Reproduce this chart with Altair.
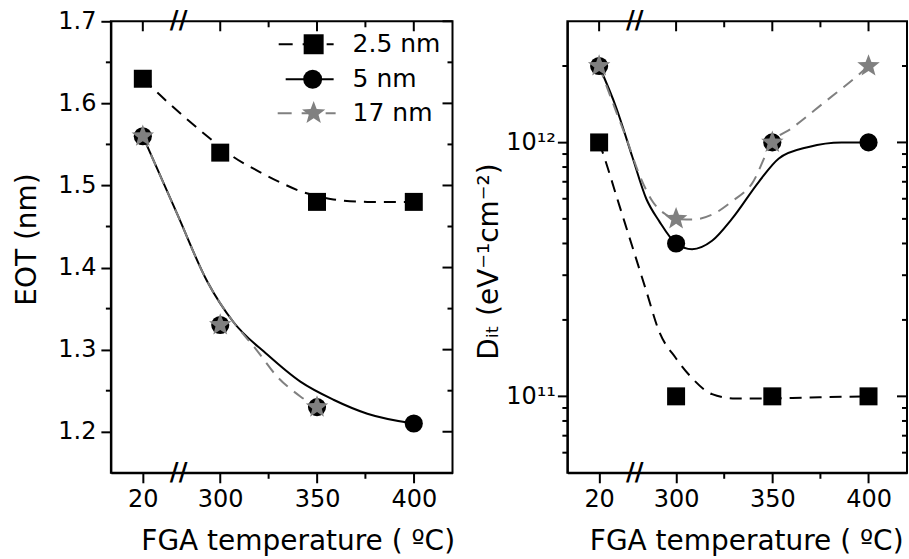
import altair as alt
import pandas as pd

# ---------------- data ----------------
temps = [20, 300, 350, 400]
axis_pos = [260, 300, 350, 400]          # where each temperature sits on the broken axis
tick_labels = ["20", "300", "350", "400"]
break_pos = [278.5]
minor_x = [325, 375]
series = ["2.5 nm", "5 nm", "17 nm"]

eot_25 = [1.63, 1.54, 1.48, 1.48]
eot_5 = [1.56, 1.33, 1.23, 1.21]
eot_17 = [1.56, 1.33, 1.23]

dit_25 = [1e12, 1e11, 1e11, 1e11]
dit_5 = [2e12, 4e11, 1e12, 1e12]
dit_17 = [2e12, 5e11, 1e12, 2e12]

# smoothed guide curves (axis position, value)
eot_c25_x = [260, 272.6, 296.4, 306.7, 320, 332.6, 341.4, 350, 358.5, 376, 400]
eot_c25_y = [1.63, 1.602, 1.554, 1.535, 1.517, 1.502, 1.493, 1.487, 1.483, 1.48, 1.48]
eot_c5_x = [260, 277.8, 293.3, 306.7, 324.3, 341.4, 358.5, 376, 400]
eot_c5_y = [1.56, 1.465, 1.383, 1.334, 1.294, 1.261, 1.239, 1.222, 1.21]
eot_c17_x = [260, 277.8, 293.3, 306.7, 318, 329.5, 341.4, 350]
eot_c17_y = [1.56, 1.465, 1.383, 1.334, 1.302, 1.267, 1.243, 1.23]

dit_c25_x = [260, 261.7, 270.5, 277.2, 284.5, 291.2, 300, 308.3, 318.7, 331, 343, 370, 400]
dit_c25_y = [1e12, 9.2e11, 5.65e11, 3.9e11, 2.6e11, 1.8e11, 1.41e11, 1.18e11, 1.02e11,
             0.98e11, 0.98e11, 0.99e11, 1e11]
dit_c5_x = [260, 268.9, 277.2, 284.5, 291.2, 300, 308.3, 318.7, 329, 343, 353.4, 368.9, 386, 400]
dit_c5_y = [2e12, 1.37e12, 8.8e11, 6.0e11, 4.9e11, 4.0e11, 3.8e11, 4.1e11, 5.0e11, 7.0e11,
            8.65e11, 9.6e11, 1e12, 1e12]
dit_c17_x = [260, 268.9, 274.1, 280.8, 287.7, 294.7, 300, 308.4, 318.8, 329.2, 339.5, 350,
             360.3, 377.6, 395, 400]
dit_c17_y = [2e12, 1.32e12, 1.04e12, 7.5e11, 5.87e11, 5.2e11, 5.0e11, 4.97e11, 5.2e11, 5.87e11,
             6.9e11, 1e12, 1.14e12, 1.45e12, 1.85e12, 2e12]

eot_ticks = [1.2, 1.3, 1.4, 1.5, 1.6, 1.7]
eot_minor = [1.25, 1.35, 1.45, 1.55, 1.65]
dit_ticks = [1e11, 1e12]
dit_tick_labels = ["10\u00b9\u00b9", "10\u00b9\u00b2"]
dit_minor = [6e10, 7e10, 8e10, 9e10, 2e11, 3e11, 4e11, 5e11, 6e11, 7e11, 8e11, 9e11, 2e12]

# ---------------- styles ----------------
FONT = "DejaVu Sans"
GRAY = "#808080"
STAR = ("M0,-1L0.247,-0.34L0.951,-0.309L0.399,0.13L0.588,0.809L0,0.42L-0.588,0.809"
        "L-0.399,0.13L-0.951,-0.309L-0.247,-0.34Z")
styles = {
    "2.5 nm": dict(color="black", dash=[12, 8], shape="square", size=324, lsize=400),
    "5 nm": dict(color="black", dash=None, shape="circle", size=330, lsize=360),
    "17 nm": dict(color=GRAY, dash=[12, 8], shape=STAR, size=560, lsize=600),
}


def label_expr(vals, labels):
    expr = "''"
    for v, l in reversed(list(zip(vals, labels))):
        expr = f"datum.value == {v} ? '{l}' : ({expr})"
    return expr


XSCALE = alt.Scale(domain=[243.5, 420], nice=False, zero=False)


def make_panel(W, H, yscale, yaxis, points, curves, minor_y, major_y, title_x, legend):
    xaxis = alt.Axis(values=axis_pos, labelExpr=label_expr(axis_pos, tick_labels),
                     title="FGA temperature ( \u00baC)", grid=False, tickSize=10,
                     labelPadding=5, titlePadding=16, titleX=title_x, labelFlush=False)

    def xe(f="x"):
        return alt.X(f"{f}:Q", scale=XSCALE, axis=xaxis)

    def ye(f="y"):
        return alt.Y(f"{f}:Q", scale=yscale, axis=yaxis)

    layers = []
    # curves
    for name in series:
        cx, cy = curves[name]
        st = styles[name]
        kw = dict(interpolate="monotone", color=st["color"], strokeWidth=2)
        if st["dash"]:
            kw["strokeDash"] = st["dash"]
        layers.append(alt.Chart(pd.DataFrame({"x": cx, "y": cy})).mark_line(**kw)
                      .encode(x=xe(), y=ye()))
    # points
    for name in series:
        px, py = points[name]
        st = styles[name]
        layers.append(alt.Chart(pd.DataFrame({"x": px, "y": py}))
                      .mark_point(shape=st["shape"], filled=True, size=st["size"],
                                  color=st["color"], opacity=1)
                      .encode(x=xe(), y=ye()))
    # tick decorations
    tk = dict(color="black", strokeWidth=2)
    layers.append(alt.Chart(pd.DataFrame({"x": axis_pos})).mark_rule(**tk)
                  .encode(x=xe(), y=alt.value(0), y2=alt.value(10)))
    layers.append(alt.Chart(pd.DataFrame({"x": minor_x})).mark_rule(**tk)
                  .encode(x=xe(), y=alt.value(0), y2=alt.value(6)))
    layers.append(alt.Chart(pd.DataFrame({"x": minor_x})).mark_rule(**tk)
                  .encode(x=xe(), y=alt.value(H), y2=alt.value(H + 6)))
    layers.append(alt.Chart(pd.DataFrame({"y": minor_y})).mark_rule(**tk)
                  .encode(y=ye(), x=alt.value(-5), x2=alt.value(0)))
    layers.append(alt.Chart(pd.DataFrame({"y": minor_y})).mark_rule(**tk)
                  .encode(y=ye(), x=alt.value(W - 5), x2=alt.value(W)))
    layers.append(alt.Chart(pd.DataFrame({"y": major_y})).mark_rule(**tk)
                  .encode(y=ye(), x=alt.value(W - 10), x2=alt.value(W)))
    # axis breaks
    for yv in (0, H):
        layers.append(alt.Chart(pd.DataFrame({"x": break_pos}))
                      .mark_text(text="//", font=FONT, fontSize=24, fontWeight="bold",
                                 color="black", baseline="middle", align="center")
                      .encode(x=xe(), y=alt.value(yv)))
    # legend
    if legend:
        rows = [(168, 223, 203, 23), (175, 223, 202, 58), (167, 225, 203, 92)]
        for name, (x0, x1, xs, yy) in zip(series, rows):
            st = styles[name]
            d = pd.DataFrame({"name": [name]})
            kw = dict(color=st["color"], strokeWidth=2)
            if st["dash"]:
                kw["strokeDash"] = [14, 10]
            layers.append(alt.Chart(d).mark_rule(**kw)
                          .encode(x=alt.value(x0), x2=alt.value(x1), y=alt.value(yy)))
            layers.append(alt.Chart(d).mark_point(shape=st["shape"], filled=True,
                                                  size=st["lsize"], color=st["color"],
                                                  opacity=1)
                          .encode(x=alt.value(xs), y=alt.value(yy)))
            layers.append(alt.Chart(d).mark_text(align="left", baseline="middle", font=FONT,
                                                 fontSize=25, color="black")
                          .encode(x=alt.value(242), y=alt.value(yy), text="name:N"))
    return alt.layer(*layers).properties(width=W, height=H)


left = make_panel(
    342, 452,
    alt.Scale(domain=[1.15, 1.7], nice=False, zero=False),
    alt.Axis(values=eot_ticks, format=".1f", title="EOT (nm)", grid=False, tickSize=10,
             labelPadding=5, titlePadding=16, titleY=218),
    {"2.5 nm": (axis_pos, eot_25), "5 nm": (axis_pos, eot_5), "17 nm": (axis_pos[:3], eot_17)},
    {"2.5 nm": (eot_c25_x, eot_c25_y), "5 nm": (eot_c5_x, eot_c5_y),
     "17 nm": (eot_c17_x, eot_c17_y)},
    eot_minor, eot_ticks, 187, True)

right = make_panel(
    340, 452,
    alt.Scale(type="log", domain=[5e10, 3e12], nice=False),
    alt.Axis(values=dit_ticks, labelExpr=label_expr(dit_ticks, dit_tick_labels),
             title="D\u1d62\u209c (eV\u207b\u00b9cm\u207b\u00b2)", grid=False, tickSize=10,
             labelPadding=2, titlePadding=2, titleY=240),
    {"2.5 nm": (axis_pos, dit_25), "5 nm": (axis_pos, dit_5), "17 nm": (axis_pos, dit_17)},
    {"2.5 nm": (dit_c25_x, dit_c25_y), "5 nm": (dit_c5_x, dit_c5_y),
     "17 nm": (dit_c17_x, dit_c17_y)},
    dit_minor, dit_ticks, 179, False)

chart = (
    alt.hconcat(left, right, spacing=18)
    .properties(padding={"left": 12, "top": 8, "right": 0, "bottom": 0}, background="white")
    .configure_view(stroke="black", strokeWidth=2)
    .configure_axis(labelFont=FONT, labelFontSize=24, labelColor="black",
                    titleFont=FONT, titleFontSize=28, titleFontWeight="normal",
                    titleColor="black", domainColor="black", domainWidth=2,
                    tickColor="black", tickWidth=2)
)

chart.save("out.html", embed_options={"renderer": "svg", "actions": False})
